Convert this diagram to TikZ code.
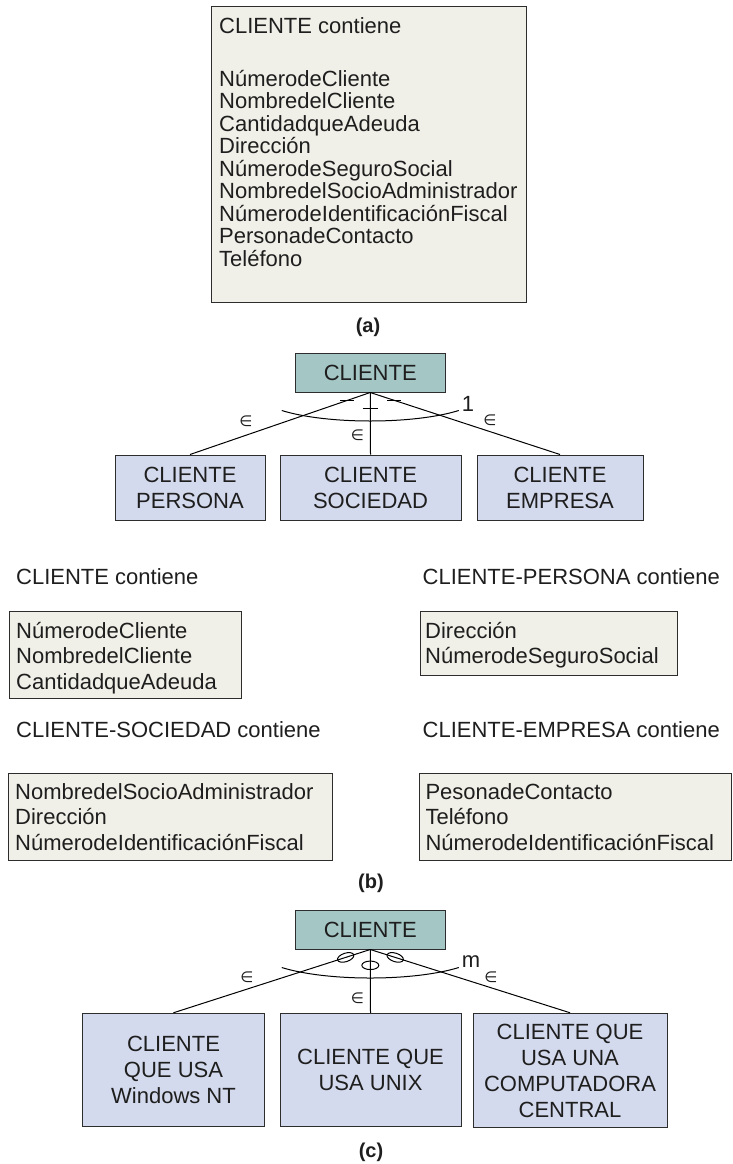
\documentclass[tikz,border=0pt]{standalone}
\usepackage{fontspec}
\setmainfont{Liberation Sans}
\newfontfamily\symfont{DejaVu Sans}
\usetikzlibrary{calc,shapes.geometric}
\definecolor{entfill}{RGB}{164,198,197}
\definecolor{subfill}{RGB}{212,218,237}
\definecolor{attrfill}{RGB}{241,240,232}
\definecolor{edgegray}{RGB}{45,45,45}
\definecolor{inkgray}{RGB}{30,30,30}
\begin{document}
\begin{tikzpicture}[x=1pt,y=-1pt,font=\fontsize{22}{22.5}\selectfont,text=inkgray]
\tikzstyle{entbox}=[rectangle,draw=edgegray,line width=1pt,fill=entfill,inner sep=0pt]
  \tikzstyle{subbox}=[rectangle,draw=edgegray,line width=1pt,fill=subfill,inner sep=0pt,align=center,font=\fontsize{22}{26}\selectfont]
  \tikzstyle{attrbox}=[rectangle,draw=edgegray,line width=1pt,fill=attrfill,inner sep=0pt,anchor=north west]
  \tikzstyle{listtext}=[anchor=north west,inner sep=0pt,align=left,font=\fontsize{22}{25.8}\selectfont]
  \tikzstyle{head}=[anchor=base west,inner sep=0pt]
  \tikzstyle{caption}=[font=\fontsize{20}{22}\selectfont\bfseries]
  \tikzstyle{elem}=[inner sep=0pt,font=\symfont\fontsize{15}{15}\selectfont]
  \tikzstyle{link}=[draw=black,line width=1pt]
  \tikzstyle{ring}=[ellipse,draw=black,line width=1pt,minimum width=17,minimum height=8.5,inner sep=0pt]

  \useasboundingbox (0,0) rectangle (732,1164);

  \node[attrbox,minimum width=315.5,minimum height=295] (allbox) at (210.5,6.5) {};
  \node[anchor=north west,inner sep=0pt,align=left] (alltext) at (219,17.2) {\strut CLIENTE contiene\\[29.2pt]
    NúmerodeCliente\\NombredelCliente\\CantidadqueAdeuda\\Dirección\\NúmerodeSeguroSocial\\
    NombredelSocioAdministrador\\NúmerodeIdentificaciónFiscal\\PersonadeContacto\\Teléfono};
  \node[caption] (capa) at (368,327) {(a)};

  \node[entbox,minimum width=149.5,minimum height=39] (proot) at (370.25,372.5) {CLIENTE};
  \node[subbox,minimum width=150,minimum height=65] (ppers) at (190,487.5) {CLIENTE\\PERSONA};
  \node[subbox,minimum width=181,minimum height=65] (psoc) at (370.5,487.5) {CLIENTE\\SOCIEDAD};
  \node[subbox,minimum width=166,minimum height=65] (pemp) at (560,487.5) {CLIENTE\\EMPRESA};
  \draw[link] (proot.south) -- (ppers.north);
  \draw[link] (proot.south) -- (psoc.north);
  \draw[link] (proot.south) -- (pemp.north);
  \draw[link] ($(proot.south)+(-88.5,18)$) .. controls +(45,14) and +(-45,14) .. ($(proot.south)+(88.5,18)$);
  \draw[link] ($(proot.south)!0.127!(ppers.north)$) +(-7,0) -- +(7,0);
  \draw[link] ($(proot.south)!0.254!(psoc.north)$) +(-7.5,0) -- +(7.5,0);
  \draw[link] ($(proot.south)!0.127!(pemp.north)$) +(-7,0) -- +(7,0);
  \node (pone) at (468,403.5) {1};
  \node[elem] (epers) at (246,421) {∈};
  \node[elem] (esoc) at (357.5,435) {∈};
  \node[elem] (eemp) at (490,420.5) {∈};

  \node[head] (hcli) at (16,584.9) {CLIENTE contiene};
  \node[head] (hpers) at (422.5,584.9) {CLIENTE-PERSONA contiene};
  \node[attrbox,minimum width=231.7,minimum height=86.7] (bcli) at (9,611) {};
  \node[listtext] (tcli) at (16,619.8) {\strut NúmerodeCliente\\NombredelCliente\\CantidadqueAdeuda};
  \node[attrbox,minimum width=257,minimum height=64] (bpers) at (420,611) {};
  \node[listtext] (tpers) at (425,619.8) {\strut Dirección\\NúmerodeSeguroSocial};
  \node[head] (hsoc) at (16,737.9) {CLIENTE-SOCIEDAD contiene};
  \node[head] (hemp) at (422.5,737.9) {CLIENTE-EMPRESA contiene};
  \node[attrbox,minimum width=324,minimum height=86.5] (bsoc) at (8,773) {};
  \node[listtext] (tsoc) at (15,780.8) {\strut NombredelSocioAdministrador\\Dirección\\NúmerodeIdentificaciónFiscal};
  \node[attrbox,minimum width=311.5,minimum height=86.5] (bemp) at (419.3,773) {};
  \node[listtext] (temp) at (425.3,780.8) {\strut PesonadeContacto\\Teléfono\\NúmerodeIdentificaciónFiscal};
  \node[caption] (capb) at (371,883) {(b)};

  \node[entbox,minimum width=149.5,minimum height=39] (croot) at (370.25,929.5) {CLIENTE};
  \node[subbox,minimum width=181.5,minimum height=113.5] (cwin) at (173.5,1070) {CLIENTE\\QUE USA\\Windows NT};
  \node[subbox,minimum width=181,minimum height=113.5] (cunix) at (370.5,1070) {CLIENTE QUE\\USA UNIX};
  \node[subbox,minimum width=194,minimum height=114.5] (cmain) at (570,1070.5) {CLIENTE QUE\\USA UNA\\COMPUTADORA\\CENTRAL};
  \draw[link] (croot.south) -- (cwin.north);
  \draw[link] (croot.south) -- (cunix.north);
  \draw[link] (croot.south) -- (cmain.north);
  \draw[link] ($(croot.south)+(-88.5,18)$) .. controls +(45,14) and +(-45,14) .. ($(croot.south)+(88.5,18)$);
  \node[ring,rotate=18] (ringw) at ($(croot.south)!0.125!(cwin.north)$) {};
  \node[ring] (ringu) at ($(croot.south)!0.25!(cunix.north)$) {};
  \node[ring,rotate=-18] (ringm) at ($(croot.south)!0.125!(cmain.north)$) {};
  \node (cmany) at (471,962) {m};
  \node[elem] (ewin) at (247,977.5) {∈};
  \node[elem] (eunix) at (357.5,998) {∈};
  \node[elem] (emain) at (491,977.5) {∈};
  \node[caption] (capc) at (371,1152) {(c)};
\end{tikzpicture}
\end{document}
